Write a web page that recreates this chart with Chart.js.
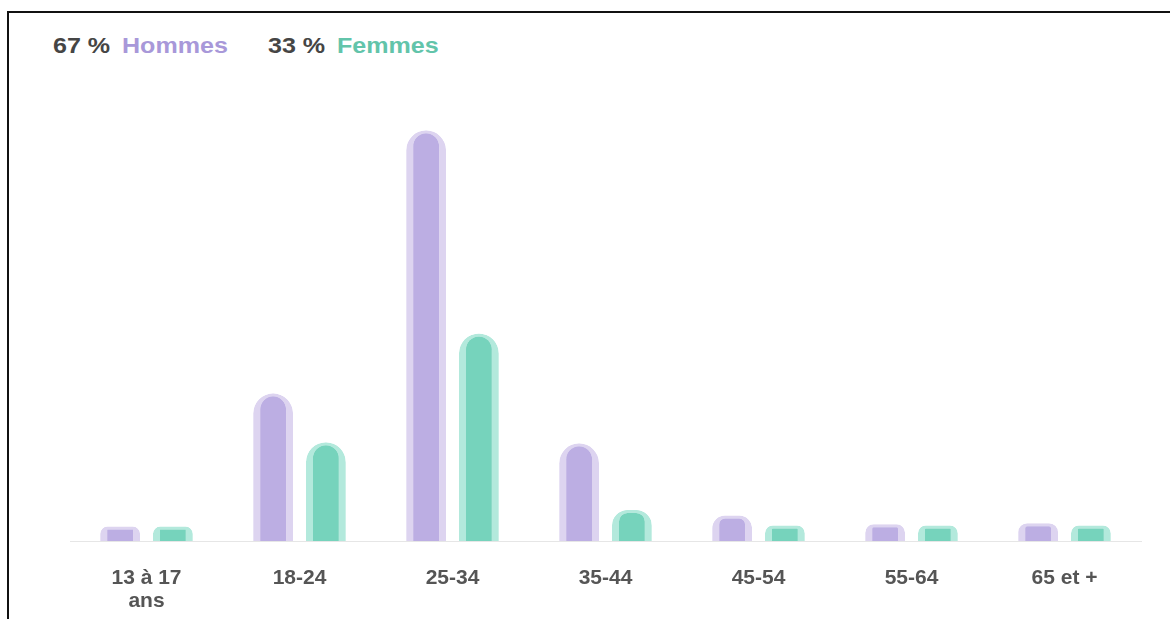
<!DOCTYPE html>
<html lang="fr">
<head>
<meta charset="utf-8">
<title>Âge et sexe</title>
<script src="https://cdn.jsdelivr.net/npm/chart.js@4/dist/chart.umd.min.js"></script>
<style>
    html, body {
        margin: 0;
        padding: 0;
        background: #ffffff;
        overflow: hidden;
    }
    #frame {
        position: absolute;
        left: 7px;
        top: 11px;
        width: 1200px;
        height: 700px;
        border: 2px solid #111;
    }
    .legend {
        position: absolute;
        top: 33px;
        font-family: "Liberation Sans", Arial, sans-serif;
        font-weight: bold;
        font-size: 22px;
        line-height: 26px;
        white-space: nowrap;
        transform: scaleX(1.14);
        transform-origin: left center;
    }
    .num { color: #454545; }
    .men { color: #a898d9; }
    .women { color: #62c4aa; }
    #wrap {
        position: absolute;
        left: 0;
        top: 0;
        width: 1170px;
        height: 619px;
    }
</style>
</head>
<body>
<div id="frame"></div>
<div class="legend num" style="left:53px" id="menShare"></div>
<div class="legend men" style="left:122px">Hommes</div>
<div class="legend num" style="left:268px" id="womenShare"></div>
<div class="legend women" style="left:337px">Femmes</div>
<div id="wrap"><canvas id="ages"></canvas></div>

<script>
// Tranches d'âge et répartition (en %) par sexe
let ageLabels = [['13 à 17', 'ans'], '18-24', '25-34', '35-44', '45-54', '55-64', '65 et +'];
let menData = [1.3, 13.3, 37.0, 8.8, 2.3, 1.5, 1.6];
let womenData = [1.3, 8.9, 18.7, 2.8, 1.4, 1.4, 1.4];
let menShare = 67;
let womenShare = 33;

document.getElementById('menShare').textContent = menShare + ' %';
document.getElementById('womenShare').textContent = womenShare + ' %';

// Bar look: light outer rim, darker core, round top
function barStyle(core, rim) {
    return {
        backgroundColor: core,
        borderColor: rim,
        borderWidth: {left: 7, right: 7, top: 3, bottom: 0},
        borderSkipped: 'bottom',
        borderRadius: {topLeft: 20, topRight: 20, bottomLeft: 0, bottomRight: 0},
        categoryPercentage: 0.69,
        barPercentage: 0.755
    };
}

let ageChart = new Chart(document.getElementById('ages'), {
    type: 'bar',
    data: {
        labels: ageLabels,
        datasets: [
            Object.assign({label: 'Hommes', data: menData}, barStyle('#bcaee3', '#ddd4f0')),
            Object.assign({label: 'Femmes', data: womenData}, barStyle('#76d3bc', '#b3e9dc'))
        ]
    },
    options: {
        responsive: true,
        maintainAspectRatio: false,
        animation: false,
        layout: {
            padding: {top: 97, left: 70, right: 29, bottom: 0}
        },
        plugins: {
            legend: {display: false},
            tooltip: {enabled: false}
        },
        scales: {
            x: {
                grid: {display: false, drawTicks: false},
                border: {display: true, color: '#e6e6e6', width: 1},
                ticks: {
                    color: '#555555',
                    padding: 26,
                    maxRotation: 0,
                    autoSkip: false,
                    font: {family: '"Liberation Sans", Arial, sans-serif', size: 21, weight: 'bold', lineHeight: 1.08}
                },
                afterFit: (scale) => {
                    scale.height = 78;
                }
            },
            y: {
                display: false,
                beginAtZero: true,
                min: 0,
                max: 40
            }
        }
    }
});
</script>
</body>
</html>
